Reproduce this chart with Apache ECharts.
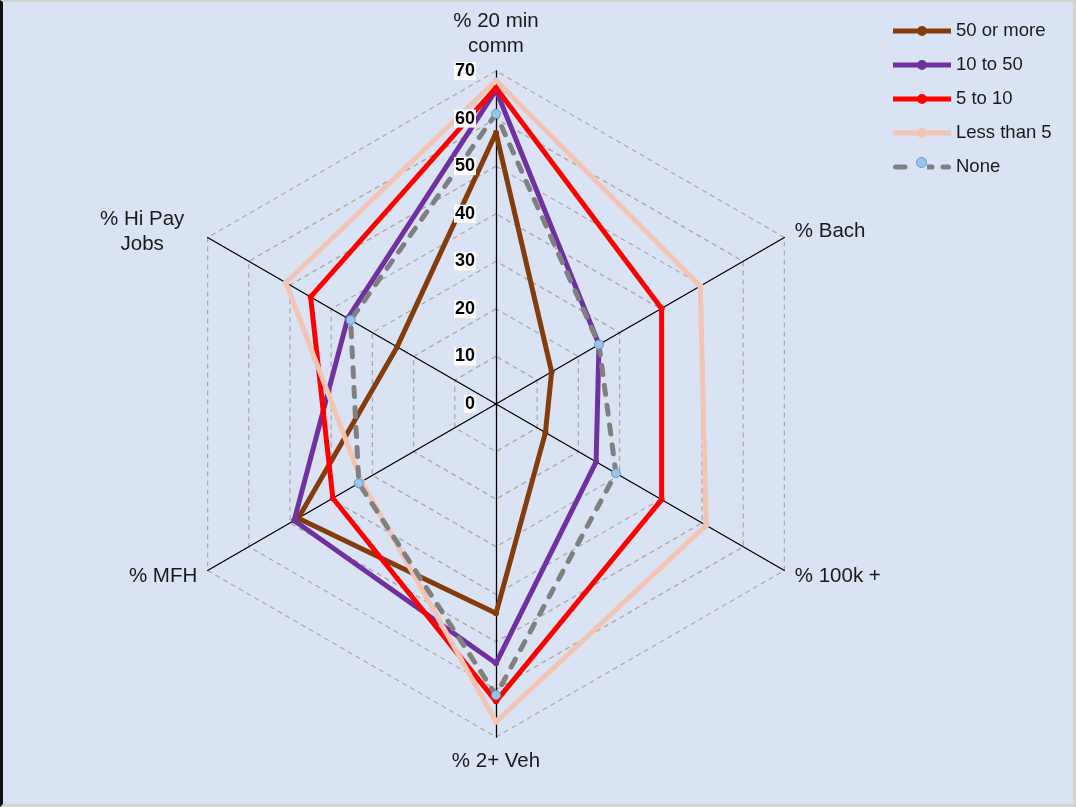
<!DOCTYPE html>
<html>
<head>
<meta charset="utf-8">
<script src="https://cdn.jsdelivr.net/npm/echarts@6/dist/echarts.min.js"></script>
<style>
  html, body { margin: 0; padding: 0; }
  #frame {
    position: absolute; left: 0; top: 0; width: 1076px; height: 807px;
    box-sizing: border-box; background: #dae3f3;
    border-left: 3px solid #111; border-top: 2px solid #d3d3d3;
    border-right: 3px solid #d3d3d3; border-bottom: 3px solid #d3d3d3;
  }
  #chart { position: absolute; left: 0; top: 0; width: 1076px; height: 807px; }
</style>
</head>
<body>
<div id="frame"></div>
<div id="chart"></div>
<script>
// Radar axes, listed counter-clockwise from the top spoke
const indicatorNames = ['% 20 min\ncomm', '% Hi Pay\nJobs', '% MFH', '% 2+ Veh', '% 100k +', '% Bach'];
const axisMax = 70;

// Share (%) for each group of places, same order as the axes
const seriesNames = ['50 or more', '10 to 50', '5 to 10', 'Less than 5', 'None'];
const fiftyOrMore = [57, 24, 48, 44, 12, 13.5];
const tenToFifty  = [66, 36, 49, 54.5, 24.3, 25];
const fiveToTen   = [66.5, 45, 39.6, 62.5, 40.2, 40.2];
const lessThanFive = [68, 51, 32.6, 66.8, 51, 49.6];
const noneGroup   = [61, 35.3, 33.3, 61.2, 29.1, 25];

const seriesValues = [fiftyOrMore, tenToFifty, fiveToTen, lessThanFive, noneGroup];
const colors = ['#843c0c', '#7030a0', '#ff0000', '#f2c4b3', '#808080'];

const FONT = '"Liberation Sans", Arial, sans-serif';
const CENTER = [496, 404];
const RADIUS = 333;

// legend swatches: a thick line with a dot in the middle
const solidIcon = 'path://M0,2.5L58,2.5L58,7.5L0,7.5Z M29,0A5,5 0 1 1 29,10A5,5 0 1 1 29,0Z';
const dashedIcon = 'path://M2.5,2.5L12,2.5A2.5,2.5 0 0 1 12,7.5L2.5,7.5A2.5,2.5 0 0 1 2.5,2.5Z' +
  ' M34,2.5L39,2.5A2.5,2.5 0 0 1 39,7.5L34,7.5Z M50,2.5L55.5,2.5A2.5,2.5 0 0 1 55.5,7.5L50,7.5A2.5,2.5 0 0 1 50,2.5Z';

const chart = echarts.init(document.getElementById('chart'), null, { renderer: 'canvas' });

const series = seriesNames.map((name, i) => {
  const isNone = i === 4;
  return {
    type: 'radar',
    radarIndex: 0,
    name: name,
    z: 2 + i,
    symbol: 'circle',
    symbolSize: isNone ? 9 : 6,
    itemStyle: isNone
      ? { color: '#9dc3e6', borderColor: '#5b9bd5', borderWidth: 1 }
      : { color: colors[i] },
    lineStyle: isNone
      ? { color: colors[i], width: 5, type: [9, 11], cap: 'round' }
      : { color: colors[i], width: 5, join: 'round' },
    data: [{ name: name, value: seriesValues[i] }]
  };
});

// axis names: the two-line upper-left name is centred line by line
function nameFormatter(name) {
  if (name.indexOf('Hi Pay') >= 0) {
    return name.split('\n').map(s => '{c|' + s + '}').join('\n');
  }
  return name;
}

chart.setOption({
  backgroundColor: 'transparent',
  animation: false,
  textStyle: { fontFamily: FONT },
  legend: [
    {
      orient: 'vertical',
      left: 893,
      top: 21,
      padding: 0,
      itemWidth: 58,
      itemHeight: 10,
      itemGap: 14,
      textStyle: { fontSize: 18.5, color: '#1a1a1a', fontFamily: FONT, lineHeight: 20 },
      data: seriesNames.map((n, i) => ({
        name: n,
        icon: i === 4 ? dashedIcon : solidIcon,
        itemStyle: { color: colors[i], borderWidth: 0 }
      }))
    },
    {
      // blue dot on the dashed swatch
      orient: 'vertical',
      left: 916,
      top: 157,
      padding: 0,
      itemWidth: 10,
      itemHeight: 10,
      formatter: () => '',
      textStyle: { fontSize: 18.5, lineHeight: 20 },
      data: [{ name: 'None', icon: 'circle',
               itemStyle: { color: '#9dc3e6', borderColor: '#5b9bd5', borderWidth: 1 } }]
    }
  ],
  radar: [
    {
      // grid: spokes and dashed hexagons, drawn under the lines
      center: CENTER,
      radius: RADIUS,
      startAngle: 90,
      shape: 'polygon',
      splitNumber: 7,
      nameGap: 12,
      axisName: {
        color: '#1a1a1a', fontSize: 20.5, fontFamily: FONT, lineHeight: 25,
        formatter: nameFormatter,
        rich: { c: { width: 110, align: 'center', fontSize: 20.5, lineHeight: 25, color: '#1a1a1a', fontFamily: FONT } }
      },
      indicator: indicatorNames.map(n => ({ name: n, min: 0, max: axisMax })),
      axisLine: { lineStyle: { color: '#000', width: 1.3 } },
      axisTick: { show: false },
      axisLabel: { show: false },
      splitLine: { lineStyle: { color: '#aca9a4', width: 1.3, type: [5, 4] } },
      splitArea: { show: false }
    },
    {
      // tick values on the top spoke, drawn above the lines
      z: 20,
      center: CENTER,
      radius: RADIUS,
      startAngle: 90,
      shape: 'polygon',
      splitNumber: 7,
      axisName: { show: false },
      indicator: indicatorNames.map((n, i) => ({
        name: n, min: 0, max: axisMax,
        axisLabel: i === 0 ? {
          show: true, fontSize: 18, fontWeight: 'bold', color: '#000', fontFamily: FONT,
          backgroundColor: '#ffffff', padding: [0, 1, 0, 1], margin: 20, showMinLabel: true
        } : { show: false }
      })),
      axisLine: { show: false },
      axisTick: { show: false },
      axisLabel: { show: false },
      splitLine: { show: false },
      splitArea: { show: false }
    }
  ],
  series: series
});
</script>
</body>
</html>
